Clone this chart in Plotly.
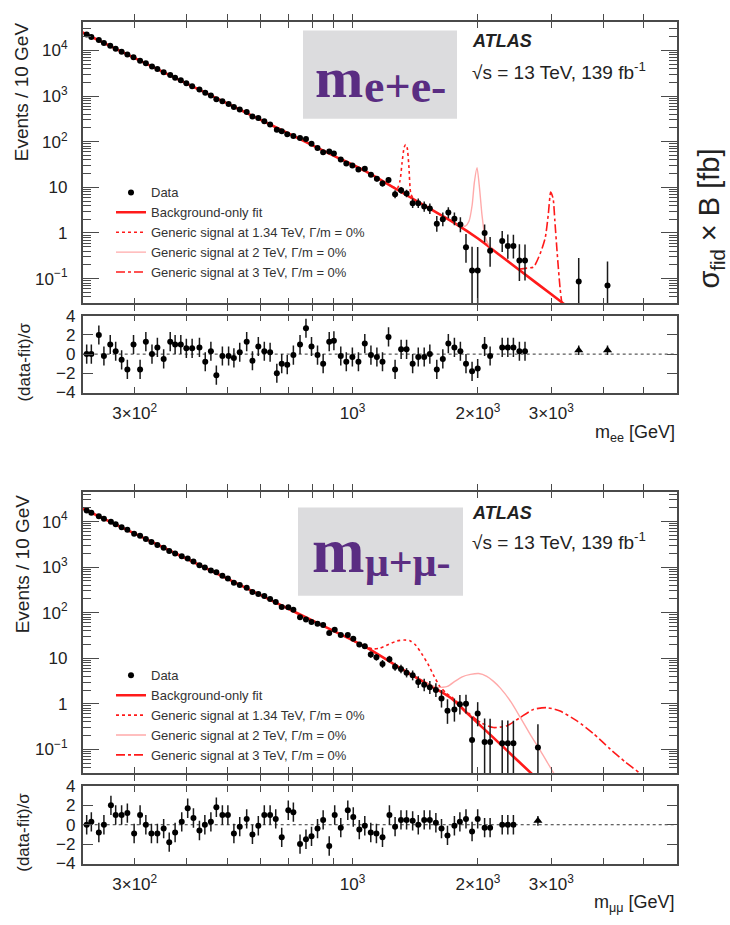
import numpy as np
import plotly.graph_objects as go

W, H = 730, 925
SANS = "Liberation Sans, Arial, Helvetica, sans-serif"
SERIF = "Liberation Serif, Times New Roman, serif"
INK = "#222222"
FRAME = "#4a4a4a"
RED = "#ff1a1a"
PINK = "#ffaaaa"
PURPLE = "#5a2d82"

# ---------------- dielectron channel ----------------
ee_mass = [230, 236, 246, 253, 262, 270, 279, 288, 298, 309,
           319, 330, 340, 352, 365, 375, 387, 399, 412, 429,
           443, 457, 471, 487, 504, 519, 536, 557, 575, 594,
           614, 634, 658, 676, 697, 721, 748, 773, 797, 824,
           850, 879, 902, 937, 966, 999, 1033, 1070, 1107, 1144,
           1180, 1220, 1265, 1308, 1348, 1394, 1438, 1486, 1533, 1593,
           1647, 1698, 1756, 1815, 1872, 1936, 1997, 2075, 2139, 2287,
           2359, 2433, 2515, 2594, 3491, 4093]
ee_events = [22200, 19800, 16940, 14500, 12600, 10900, 9340, 8100, 7080, 5940,
             5210, 4450, 3900, 3320, 2880, 2530, 2210, 1920, 1650, 1390,
             1175, 1035, 848, 773, 666, 574, 509, 446, 357, 330,
             279, 239, 183, 169, 146, 133, 121, 115, 90, 73,
             59, 61, 55, 41, 33.4, 30.2, 24.6, 25.6, 19.0, 15.5,
             12.2, 14.5, 7.06, 8.6, 7.35, 4.5, 4.5, 3.8, 3.42, 1.6,
             2.0, 2.8, 2.05, 1.53, 0.49, 0.15, 0.15, 1.0, 0.41, 0.67,
             0.52, 0.52, 0.25, 0.25, 0.087, 0.071]
ee_pull = [0, 0, 2.0, -0.2, 1.0, 0.3, -0.6, -1.6, 1.0, -1.6,
           1.3, 0, 0.7, -0.5, 1.3, 1.0, 1.0, 0.6, 0.6, 0.7,
           -0.8, 0.3, -2.2, -0.2, -0.2, -0.4, 0.2, 1.3, -0.7, 0.8,
           0.3, 0.2, -2.0, -1.0, -1.1, -0.1, 1.0, 2.7, 0.8, -0.1,
           -1.0, 1.3, 1.4, -0.2, -0.8, -0.3, -0.8, 1.1, -0.1, -0.3,
           -0.8, 1.8, -1.6, 0.5, 0.5, -1.0, -0.3, -0.3, 0.0, -1.6,
           -0.5, 1.1, 0.7, 0.3, -1.0, -1.8, -1.5, 0.8, -0.2, 0.7,
           0.7, 0.7, 0.3, 0.3, 0.4, 0.4]
ee_fit_mass = [225, 300, 400, 500, 600, 750, 900, 1076, 1250, 1500, 1750,
               2000, 2250, 2500, 2750, 3000, 3200, 3400]
ee_fit = [24660, 6800, 1873, 689, 304.5, 112, 49.6, 22.3, 10.07, 3.83, 1.69,
          0.758, 0.334, 0.161, 0.0829, 0.0453, 0.029, 0.019]
ee_s134_mass = [1240, 1281, 1300, 1315, 1330, 1341, 1352, 1365, 1379, 1400, 1440]
ee_s134 = [10.5, 9.6, 14, 35, 75, 87, 75, 30, 7.5, 5.6, 4.8]
ee_s2_mass = [1780, 1866, 1903, 1937, 1961, 1990, 2018, 2045, 2075, 2110, 2160]
ee_s2 = [1.55, 1.41, 1.8, 4.1, 13, 27, 9.4, 2.5, 0.93, 0.6, 0.45]
ee_s3_mass = [2500, 2620, 2720, 2820, 2900, 2950, 2990, 3030, 3060, 3100, 3150, 3180, 3220]
ee_s3 = [0.161, 0.17, 0.18, 0.35, 0.77, 2.5, 7.9, 5.7, 1.8, 0.35, 0.06, 0.03, 0.02]

# ---------------- dimuon channel ----------------
mm_mass = [230, 236, 246, 253, 263, 270, 279, 288, 299, 309,
           319, 329, 340, 352, 363, 375, 389, 402, 415, 429,
           442, 457, 471, 487, 502, 519, 536, 557, 575, 594,
           614, 634, 654, 676, 701, 721, 748, 773, 797, 824,
           850, 879, 906, 937, 974, 1004, 1038, 1070, 1106, 1141,
           1180, 1226, 1265, 1307, 1348, 1394, 1438, 1486, 1533, 1585,
           1635, 1690, 1756, 1810, 1872, 1936, 1997, 2075, 2139, 2287,
           2359, 2433, 2786]
mm_events = [17400, 15600, 13010, 11450, 9870, 8710, 7530, 6600, 5410, 4850,
             4130, 3550, 3060, 2665, 2264, 1990, 1735, 1544, 1319, 1104,
             975, 843, 768, 648, 565, 455, 407, 352, 284, 257,
             232, 200, 171, 132.5, 132, 115.6, 79, 70.3, 62.4, 57.1,
             53.5, 35.8, 42.2, 32.3, 32.4, 26.6, 19.9, 18.2, 12.0, 10.5,
             7.5, 9.5, 6.5, 5.8, 4.8, 4.2, 3.0, 2.6, 2.3, 2.0,
             1.3, 0.7, 0.75, 0.97, 1.0, 0.16, 0.61, 0.145, 0.145, 0.135,
             0.135, 0.135, 0.11]
mm_pull = [0, 0.3, -0.8, 0, 2.0, 1.0, 1.0, 1.2, -0.9, 1.0,
           0, -0.9, -0.9, -0.4, -1.8, -0.8, 0.3, 1.7, 0.7, -0.6,
           0, 0.3, 1.8, 1.0, 1.0, -0.9, -0.2, 0.6, -1.0, -0.1,
           1.0, 1.0, 0.6, -1.3, 1.5, 1.3, -2.0, -1.5, -1.2, -0.4,
           0.5, -2.2, 1.0, -0.3, 1.5, 0.8, -0.5, -0.1, -0.8, -0.9,
           -1.3, 1.0, -0.2, 0.5, 0.5, 0.4, 0.0, 0.5, 0.5, 0.2,
           -0.4, -1.1, -0.1, 0.3, 0.6, -0.7, 0.6, -0.3, -0.3, 0.0,
           0.0, 0.0, 0.4]
mm_fit_mass = [225, 300, 434, 600, 752, 900, 1076, 1250, 1364, 1500, 1719,
               1900, 2143, 2400, 2695, 2900]
mm_fit = [19320, 5420, 1057, 245, 88.7, 39.8, 17.5, 7.63, 4.7, 2.82, 1.35,
          0.576, 0.207, 0.078, 0.0288, 0.0153]
mm_s134_mass = [1000, 1060, 1120, 1160, 1220, 1280, 1330, 1370, 1420, 1470,
                1520, 1570, 1620, 1680, 1740, 1800]
mm_s134 = [24.5, 18.9, 16, 16.5, 20, 24, 25, 24.5, 19, 12, 7.2, 4.0, 2.4, 1.7, 1.35, 1.0]
mm_s2_mass = [1500, 1600, 1690, 1760, 1833, 1920, 2009, 2100, 2180, 2264, 2400,
              2528, 2680, 2822, 2940, 3040, 3100]
mm_s2 = [2.85, 2.3, 2.4, 3.1, 3.9, 4.4, 4.6, 4.0, 3.1, 2.2, 1.1, 0.5, 0.2,
         0.095, 0.05, 0.03, 0.022]
mm_s3_mass = [1800, 1900, 2036, 2180, 2350, 2528, 2717, 2927, 3150, 3457, 3787,
              4160, 4500, 4890, 5100]
mm_s3 = [0.93, 0.62, 0.38, 0.3, 0.33, 0.5, 0.75, 0.82, 0.69, 0.42, 0.22, 0.1,
         0.054, 0.03, 0.022]

# axis tick labels
x_tickvals = [300, 400, 500, 600, 700, 800, 900, 1000, 2000, 3000, 4000, 5000]
x_ticktext = ["3×10<sup>2</sup>", "", "", "", "", "", "", "10<sup>3</sup>",
              "2×10<sup>3</sup>", "3×10<sup>3</sup>", "", ""]
y_tickvals = [0.1, 1, 10, 100, 1000, 10000]
y_ticktext = ["10<sup>−1</sup>", "1", "10", "10<sup>2</sup>", "10<sup>3</sup>", "10<sup>4</sup>"]
pull_tickvals = [-4, -2, 0, 2, 4]
pull_ticktext = ["−4", "−2", "0", "2", "4"]

BIN_FRAC = 0.034  # relative width of the variable mass bins


def poisson_err(mass, dens):
    m = np.asarray(mass, float)
    v = np.asarray(dens, float)
    w = BIN_FRAC * m / 10.0          # bin width in units of 10 GeV
    n = v * w
    up = (np.sqrt(n + 0.75) + 1.0) / w
    lo = np.sqrt(np.maximum(n - 0.25, 0.0)) / w
    return up, lo


def px(x):
    return x / W


def py(y):
    return 1 - y / H


XDOM = [px(82.7), px(676.7)]
PANELS = {
    "top": dict(main=[py(300.5), py(13.3)], pull=[py(391.7), py(313.0)],
                yrange=[-1.541, 4.622]),
    "bot": dict(main=[py(780.0), py(493.3)], pull=[py(872.7), py(793.0)],
                yrange=[-1.52, 4.645]),
}
XRANGE = [np.log10(225), np.log10(6000)]

fig = go.Figure()


def add_channel(mass, events, pull, fit_m, fit_v, s1, s2, s3, xa_main, ya_main,
                xa_pull, ya_pull, legend):
    common = dict(xaxis=xa_main, yaxis=ya_main, legend=legend)
    fig.add_trace(go.Scatter(x=fit_m, y=fit_v, mode="lines", name="Background-only fit",
                             line=dict(color=RED, width=2.6, shape="spline"),
                             legendrank=2, **common))
    fig.add_trace(go.Scatter(x=s1[0], y=s1[1], mode="lines",
                             name="Generic signal at 1.34 TeV, Γ/m = 0%",
                             line=dict(color=RED, width=1.6, dash="dot", shape="spline",
                                       smoothing=0.6),
                             legendrank=3, **common))
    fig.add_trace(go.Scatter(x=s2[0], y=s2[1], mode="lines",
                             name="Generic signal at 2 TeV, Γ/m = 0%",
                             line=dict(color=PINK, width=1.4, shape="spline", smoothing=0.6),
                             legendrank=4, **common))
    fig.add_trace(go.Scatter(x=s3[0], y=s3[1], mode="lines",
                             name="Generic signal at 3 TeV, Γ/m = 0%",
                             line=dict(color=RED, width=1.6, dash="dashdot", shape="spline",
                                       smoothing=0.6),
                             legendrank=5, **common))
    up, lo = poisson_err(mass, events)
    fig.add_trace(go.Scatter(x=mass, y=events, mode="markers", name="Data",
                             marker=dict(color="black", size=6),
                             error_y=dict(type="data", array=up, arrayminus=lo,
                                          color="#1a1a1a", thickness=1.5, width=0),
                             legendrank=1, **common))
    # pulls
    m = np.asarray(mass, float)
    p = np.asarray(pull, float)
    iso = m > 2700
    fig.add_trace(go.Scatter(x=m[~iso], y=p[~iso], mode="markers", showlegend=False,
                             marker=dict(color="black", size=6),
                             error_y=dict(type="data", array=np.ones((~iso).sum()),
                                          color="#1a1a1a", thickness=1.5, width=0),
                             xaxis=xa_pull, yaxis=ya_pull))
    fig.add_trace(go.Scatter(x=m[iso], y=p[iso], mode="markers", showlegend=False,
                             marker=dict(color="black", size=8, symbol="triangle-up"),
                             error_y=dict(type="data", array=np.full(iso.sum(), 0.5),
                                          color="#1a1a1a", thickness=1.5, width=0),
                             xaxis=xa_pull, yaxis=ya_pull))


add_channel(ee_mass, ee_events, ee_pull, ee_fit_mass, ee_fit,
            (ee_s134_mass, ee_s134), (ee_s2_mass, ee_s2), (ee_s3_mass, ee_s3),
            "x", "y", "x2", "y2", "legend")
add_channel(mm_mass, mm_events, mm_pull, mm_fit_mass, mm_fit,
            (mm_s134_mass, mm_s134), (mm_s2_mass, mm_s2), (mm_s3_mass, mm_s3),
            "x3", "y3", "x4", "y4", "legend2")

# empty traces that carry the minor-tick overlay axes
for xa, ya in (("x", "y5"), ("x3", "y6")):
    fig.add_trace(go.Scatter(x=[None], y=[None], xaxis=xa, yaxis=ya,
                             showlegend=False, hoverinfo="skip"))

frame = dict(showline=True, linecolor=FRAME, linewidth=1.6, mirror="allticks",
             ticks="inside", tickcolor=FRAME, tickwidth=1.2, showgrid=False,
             zeroline=False, tickfont=dict(family=SANS, size=17, color=INK))

y_minor = [k * 10.0 ** e for e in range(-2, 5) for k in range(2, 10)]


def x_axis(anchor, labels):
    return dict(type="log", range=XRANGE, domain=XDOM, anchor=anchor,
                tickmode="array", tickvals=x_tickvals, ticktext=x_ticktext,
                showticklabels=labels, ticklen=6, ticklabelstandoff=4, **frame)


def y_main(anchor, dom, rng):
    return dict(type="log", range=rng, domain=dom, anchor=anchor,
                tickmode="array", tickvals=y_tickvals, ticktext=y_ticktext,
                ticklen=16, ticklabelstandoff=10, **frame)


def y_minor_axis(base, anchor, rng):
    return dict(type="log", range=rng, overlaying=base, anchor=anchor, side="left",
                tickmode="array", tickvals=y_minor, showticklabels=False,
                ticks="inside", ticklen=8, tickcolor=FRAME, tickwidth=1,
                mirror="allticks", showline=False, showgrid=False, zeroline=False)


def y_pull(anchor, dom):
    return dict(range=[-4.03, 4.03], domain=dom, anchor=anchor,
                tickmode="array", tickvals=pull_tickvals, ticktext=pull_ticktext,
                ticklen=10, ticklabelstandoff=2, **frame)


legend_style = dict(xanchor="left", yanchor="top", bgcolor="rgba(0,0,0,0)",
                    font=dict(family=SANS, size=13, color="#333333"),
                    itemwidth=30, tracegroupgap=0, traceorder="normal")

fig.update_layout(
    width=W, height=H, autosize=False,
    margin=dict(l=0, r=0, t=0, b=0),
    paper_bgcolor="white", plot_bgcolor="white",
    showlegend=True,
    xaxis=x_axis("y", False),
    yaxis=y_main("x", PANELS["top"]["main"], PANELS["top"]["yrange"]),
    xaxis2=x_axis("y2", True),
    yaxis2=y_pull("x2", PANELS["top"]["pull"]),
    xaxis3=x_axis("y3", False),
    yaxis3=y_main("x3", PANELS["bot"]["main"], PANELS["bot"]["yrange"]),
    xaxis4=x_axis("y4", True),
    yaxis4=y_pull("x4", PANELS["bot"]["pull"]),
    yaxis5=y_minor_axis("y", "x", PANELS["top"]["yrange"]),
    yaxis6=y_minor_axis("y3", "x3", PANELS["bot"]["yrange"]),
    legend=dict(x=px(111), y=py(172), **legend_style),
    legend2=dict(x=px(111), y=py(665), **legend_style),
)

# zero reference lines in the pull panels
for xr, yr in (("x2 domain", "y2"), ("x4 domain", "y4")):
    fig.add_shape(type="line", xref=xr, yref=yr, x0=0, x1=1, y0=0, y1=0,
                  line=dict(color="#333333", width=1, dash="3px,3px"), layer="below")

# channel labels on grey boxes: (box, main letter, size, baseline, subscript, size, baseline)
boxes = [((303, 22, 457, 112), 313, "m", 58, 90, "e+e-", 46, 95),
         ((298, 509, 463, 599), 310, "m", 63, 575, "μ+μ-", 42, 579)]
for (x0, y0, x1, y1), xl, big, fbig, bbig, sub, fsub, bsub in boxes:
    fig.add_shape(type="rect", xref="paper", yref="paper",
                  x0=px(x0), x1=px(x1), y0=py(y1), y1=py(y0),
                  fillcolor="#dcdcde", line=dict(width=0), layer="above")
    fig.add_annotation(text="<b>" + big + "</b>", xref="paper", yref="paper",
                       x=px(xl), y=py(bbig - 0.3375 * fbig), xanchor="left",
                       yanchor="middle", showarrow=False,
                       font=dict(family=SERIF, size=fbig, color=PURPLE))
    fig.add_annotation(text="<b>" + sub + "</b>", xref="paper", yref="paper",
                       x=px(xl + 0.833 * fbig + 1), y=py(bsub - 0.3375 * fsub),
                       xanchor="left", yanchor="middle", showarrow=False,
                       font=dict(family=SERIF, size=fsub, color=PURPLE))

annotations = [
    # experiment labels
    ("<b><i>ATLAS</i></b>", 470, 33, "left", "middle", 0, 18),
    ("√s = 13 TeV, 139 fb<sup>-1</sup>", 470, 63, "left", "middle", 0, 19),
    ("<b><i>ATLAS</i></b>", 470, 515, "left", "middle", 0, 18),
    ("√s = 13 TeV, 139 fb<sup>-1</sup>", 470, 543, "left", "middle", 0, 19),
    # axis titles
    ("Events / 10 GeV", 21, 85, "center", "middle", -90, 19),
    ("Events / 10 GeV", 22, 567, "center", "middle", -90, 19),
    ("(data-fit)/σ", 25, 361, "center", "middle", -90, 17),
    ("(data-fit)/σ", 24, 840, "center", "middle", -90, 17),
    ("m<sub>ee</sub> [GeV]", 677, 433, "right", "middle", 0, 18),
    ("m<sub>μμ</sub> [GeV]", 677, 913, "right", "middle", 0, 18),
    ("σ<sub>fid</sub> × B [fb]", 711, 214, "center", "middle", -90, 29),
]
for text, x, y, xa, ya, ang, size in annotations:
    fig.add_annotation(text=text, xref="paper", yref="paper", x=px(x), y=py(y),
                       xanchor=xa, yanchor=ya, textangle=ang, showarrow=False,
                       font=dict(family=SANS, size=size, color=INK))

fig.write_html("out.html")
